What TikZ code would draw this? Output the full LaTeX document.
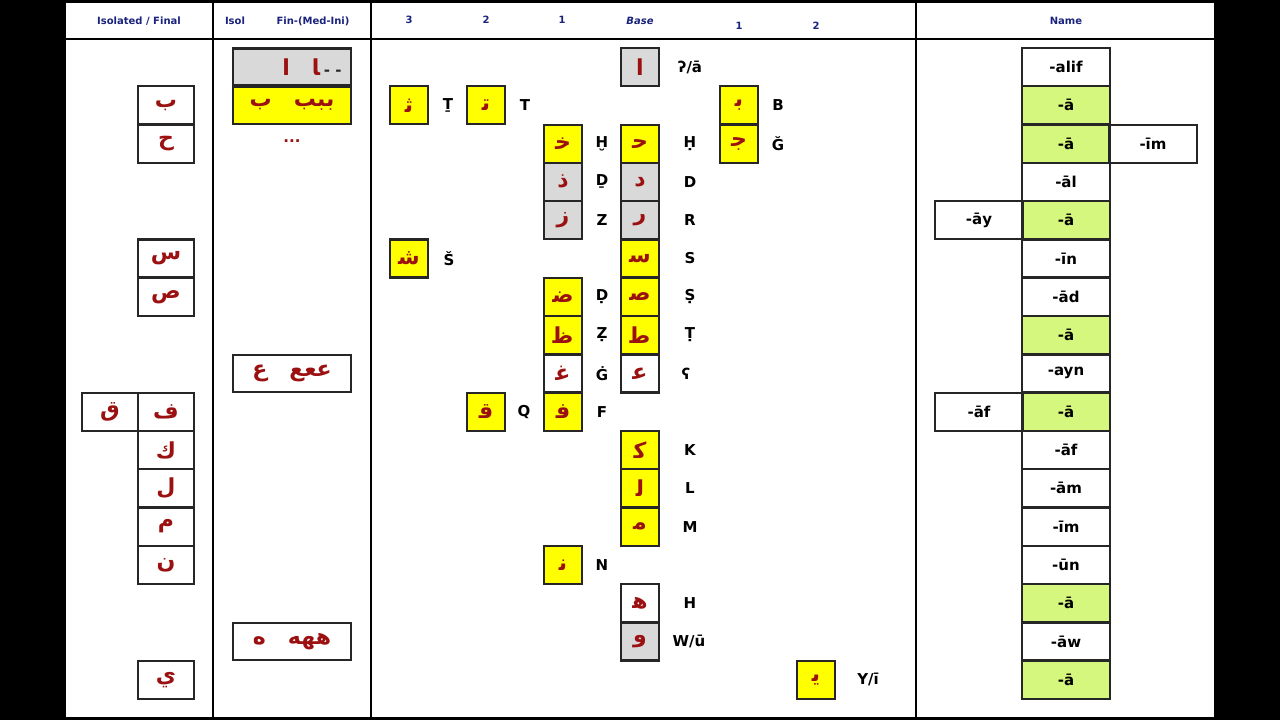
\documentclass[tikz,border=0pt]{standalone}
\usepackage{fontspec}
\setmainfont{DejaVu Sans}
\newfontfamily\ar[Script=Arabic]{DejaVu Sans}
\TeXXeTstate=1
\definecolor{navy}{HTML}{1A237E}
\definecolor{dred}{HTML}{9B1010}
\definecolor{yel}{HTML}{FFFF00}
\definecolor{gry}{HTML}{D9D9D9}
\definecolor{grn}{HTML}{D6F77E}
\begin{document}
\begin{tikzpicture}[x=1pt,y=-1pt,
  box/.style={draw=black!85,line width=2.2pt,minimum width=38pt,minimum height=38pt,inner sep=0pt,font=\ar\bfseries\fontsize{22}{22}\selectfont,text=dred},
  lbl/.style={font=\bfseries\fontsize{15}{15}\selectfont,inner sep=0pt},
  hdr/.style={font=\bfseries\fontsize{10}{10}\selectfont,text=navy,inner sep=0pt},
  nm/.style={draw=black!85,line width=2.2pt,minimum width=88pt,minimum height=38pt,inner sep=0pt,font=\bfseries\fontsize{15}{15}\selectfont},
  lb/.style={draw=black!85,line width=2.2pt,minimum width=56pt,minimum height=38pt,inner sep=0pt,font=\ar\bfseries\fontsize{22}{22}\selectfont,text=dred},
  wb/.style={draw=black!85,line width=2.2pt,minimum width=118pt,minimum height=37pt,inner sep=0pt,font=\ar\bfseries\fontsize{22}{22}\selectfont,text=dred}]
\fill[black] (0,0) rectangle (1280,720);
\fill[white] (65,2) rectangle (1215,718);
\draw[line width=2.5pt] (65,2) rectangle (1215,718);
\draw[line width=2.5pt] (65,39) -- (1215,39);
\foreach \xx in {213,371,916} \draw[line width=2.5pt] (\xx,2) -- (\xx,718);
% headers
\node[hdr] (h1) at (139,21) {Isolated / Final};
\node[hdr] (h2) at (235,21) {Isol};
\node[hdr] (h3) at (313,21) {Fin-(Med-Ini)};
\node[hdr] (h4) at (409,20) {3};
\node[hdr] (h5) at (486,20) {2};
\node[hdr] (h6) at (562,20) {1};
\node[hdr,font=\bfseries\itshape\fontsize{10}{10}\selectfont] (h7) at (640,21) {Base};
\node[hdr] (h8) at (739,26) {1};
\node[hdr] (h9) at (816,26) {2};
\node[hdr] (h10) at (1066,21) {Name};
% row macro
\def\ry#1{(67+(#1-1)*38.3)}
% left column
\foreach \r/\g/\n in {2/ب/a,3/ح/b,6/س/c,7/ص/d,10/ف/e,11/ك/f,12/ل/g,13/م/h,14/ن/i,17/ي/j}
  \node[lb] (L\n) at (166,{\ry{\r}}) {\g};
\node[lb] (Lq) at (110,{\ry{10}}) {ق};
% second column
\node[wb,fill=gry] (W1) at (292,{\ry{1}}) {\hspace*{40pt}ﺍ\quad ﺎ\,{\color{black!85}\bfseries\fontsize{15}{15}\selectfont-\ -}};
\node[wb,fill=yel] (W2) at (292,{\ry{2}}) {\beginR ببب\quad ب\endR};
\node[font=\bfseries\fontsize{15}{15}\selectfont,text=dred] (W3) at (292,{\ry{3}-3}) {...};
\node[wb] (W9) at (292,{\ry{9}}) {\beginR ععع\quad ع\endR};
\node[wb] (W16) at (292,{\ry{16}}) {\beginR ههه\quad ه\endR};
% middle boxes: name/x/row/fill/glyph/label/labelx
\foreach \n/\x/\r/\f/\g/\t/\lx in {
  b1/640/1/gry/ﺍ/{ʔ/ā}/690,
  c3/409/2/yel/ﺛ/Ṯ/448,
  c2/486/2/yel/ﺗ/T/525,
  r1/739/2/yel/ﺑ/B/778,
  k1/563/3/yel/ﺧ/Ḫ/602,
  b3/640/3/yel/ﺣ/Ḥ/690,
  r3/739/3/yel/ﺟ/Ğ/778,
  k4/563/4/gry/ﺫ/Ḏ/602,
  b4/640/4/gry/ﺩ/D/690,
  k5/563/5/gry/ﺯ/Z/602,
  b5/640/5/gry/ﺭ/R/690,
  c6/409/6/yel/ﺷ/Š/449,
  b6/640/6/yel/ﺳ/S/690,
  k7/563/7/yel/ﺿ/Ḍ/602,
  b7/640/7/yel/ﺻ/Ṣ/690,
  k8/563/8/yel/ﻇ/Ẓ/602,
  b8/640/8/yel/ﻃ/Ṭ/690,
  k9/563/9/white/ﻏ/Ġ/602,
  b9/640/9/white/ﻋ/ʕ/686,
  q10/486/10/yel/ﻗ/Q/524,
  k10/563/10/yel/ﻓ/F/602,
  b11/640/11/yel/ﻛ/K/690,
  b12/640/12/yel/ﻟ/L/690,
  b13/640/13/yel/ﻣ/M/690,
  k14/563/14/yel/ﻧ/N/602,
  b15/640/15/white/ﻫ/H/690,
  b16/640/16/gry/ﻭ/{W/ū}/689,
  s17/816/17/yel/ﻳ/{Y/ī}/868}
{
  \node[box,fill=\f] (M\n) at (\x,{\ry{\r}}) {\g};
  \node[lbl] (T\n) at (\lx,{\ry{\r}}) {\t};
}
% names
\foreach \r/\t/\f in {1/-alif/white,2/-ā/grn,3/-ā/grn,4/-āl/white,5/-ā/grn,6/-īn/white,7/-ād/white,8/-ā/grn,9/-ayn/white,10/-ā/grn,11/-āf/white,12/-ām/white,13/-īm/white,14/-ūn/white,15/-ā/grn,16/-āw/white,17/-ā/grn}
  \node[nm,fill=\f] (N\r) at (1066,{\ry{\r}}) {\t};
\node[nm] (Ex3) at (1153,{\ry{3}}) {-īm};
\node[nm] (Ex5) at (979,{\ry{5}}) {-āy};
\node[nm] (Ex10) at (979,{\ry{10}}) {-āf};
\end{tikzpicture}
\end{document}
